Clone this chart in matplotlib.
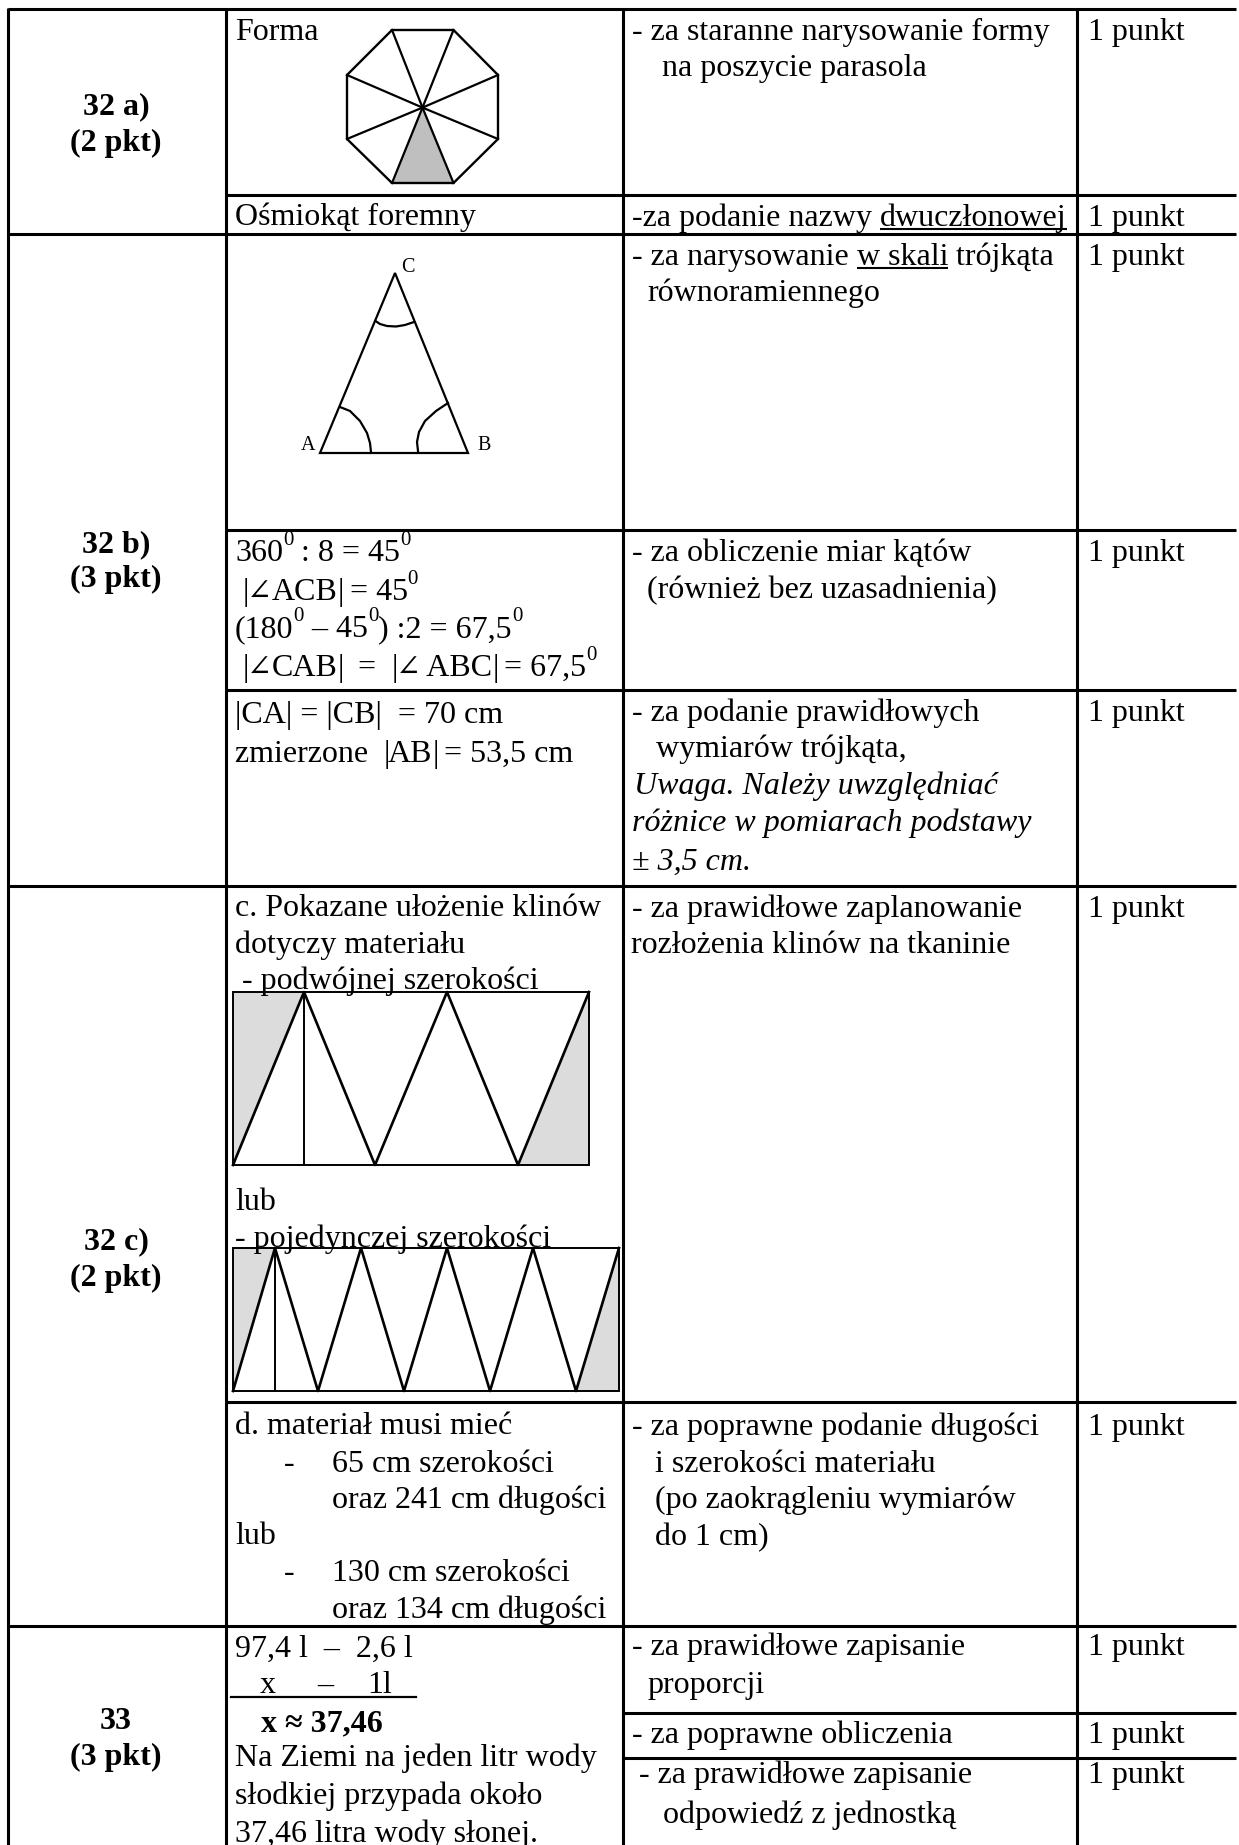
"""
Tabela punktacji 32-33: tekst i rysunki w ukladzie pikselowym strony
"""
import matplotlib
matplotlib.use("Agg")
import matplotlib.pyplot as plt
from matplotlib.patches import Polygon

plt.rcParams['font.family'] = ['Liberation Serif', 'DejaVu Serif']

# linie tabeli
COL_X = [8, 226, 623, 1077]
RIGHT = 1236
BOTTOM = 1845
FULL_ROWS = [9, 234, 886, 1626]
INNER_ROWS = [195, 530, 690, 1402]
SHORT_ROWS = [1713, 1758]
SUM_RULE = (231, 416, 1697)

# teksty: x, linia bazowa, tresc
LEFT_HEAD = [(116, 114, "32 a)"), (116, 151, "(2 pkt)"),
             (116, 552, "32 b)"), (116, 587, "(3 pkt)"),
             (116, 1249, "32 c)"), (116, 1286, "(2 pkt)"),
             (116, 1729, "33"), (116, 1765, "(3 pkt)")]
COL2_TEXT = [(235, 40, "Forma"), (235, 225, "Ośmiokąt foremny"),
             (235, 723, "|CA| = |CB|  = 70 cm"),
             (235, 916, "c. Pokazane ułożenie klinów"),
             (235, 953, "dotyczy materiału"),
             (242, 989, "- podwójnej szerokości"),
             (235, 1210, "lub"),
             (235, 1247, "- pojedynczej szerokości"),
             (235, 1434, "d. materiał musi mieć"),
             (284, 1472, "-"), (332, 1472, "65 cm szerokości"),
             (332, 1508, "oraz 241 cm długości"),
             (235, 1544, "lub"),
             (284, 1581, "-"), (332, 1581, "130 cm szerokości"),
             (332, 1618, "oraz 134 cm długości"),
             (235, 1657, "97,4 l  –  2,6 l"),
             (260, 1693, "x"), (317, 1693, "–"), (367, 1693, "1l"),
             (235, 1766, "Na Ziemi na jeden litr wody"),
             (235, 1804, "słodkiej przypada około"),
             (235, 1842, "37,46 litra wody słonej.")]
COL3_TEXT = [(632, 40, "- za staranne narysowanie formy"),
             (662, 76, "na poszycie parasola"),
             (647, 301, "równoramiennego"),
             (632, 561, "- za obliczenie miar kątów"),
             (647, 598, "(również bez uzasadnienia)"),
             (632, 721, "- za podanie prawidłowych"),
             (656, 757, "wymiarów trójkąta,"),
             (632, 917, "- za prawidłowe zaplanowanie"),
             (631, 953, "rozłożenia klinów na tkaninie"),
             (632, 1435, "- za poprawne podanie długości"),
             (655, 1472, "i szerokości materiału"),
             (655, 1508, "(po zaokrągleniu wymiarów"),
             (655, 1545, "do 1 cm)"),
             (632, 1655, "- za prawidłowe zapisanie"),
             (647, 1693, "proporcji"),
             (632, 1743, "- za poprawne obliczenia"),
             (639, 1783, "- za prawidłowe zapisanie"),
             (663, 1823, "odpowiedź z jednostką")]
COL3_ITALIC = [(634, 794, "Uwaga. Należy uwzględniać"),
               (632, 831, "różnice w pomiarach podstawy"),
               (632, 870, "± 3,5 cm.")]
POINT_BASE = [40, 226, 265, 561, 721, 917, 1435, 1655, 1743, 1783]
POINT_X = 1088

# wiersze zlozone: 0 zwykly, 1 podkreslony, 2 wykladnik, 3 kreska, 4 kat
UNDER_ROWS = [(632, 226, [("-za podanie nazwy ", 0), ("dwuczłonowej", 1)]),
              (632, 265, [("- za narysowanie ", 0), ("w skali", 1), (" trójkąta", 0)])]
SUP_ROWS = [(235, 561, [("360", 0), ("0", 2), (" : 8 = 45", 0), ("0", 2)]),
            (243, 600, [("|", 3), ("∠", 4), ("ACB", 0), ("|", 3), (" = 45", 0), ("0", 2)]),
            (235, 637, [("(180", 0), ("0", 2), (" – 45", 0), ("0", 2), (") :2 = 67,5", 0), ("0", 2)]),
            (243, 676, [("|", 3), ("∠", 4), ("CAB", 0), ("|", 3), ("  =  ", 0), ("|", 3), ("∠", 4),
                        (" ABC", 0), ("|", 3), (" = 67,5", 0), ("0", 2)]),
            (235, 762, [("zmierzone  ", 0), ("|", 3), ("AB", 0), ("|", 3), (" = 53,5 cm", 0)])]

# osmiokat
OCTAGON_X = [392, 453.5, 498, 498, 453.5, 392, 347, 347]
OCTAGON_Y = [30, 30, 75, 139, 183, 183, 139, 75]
OCT_CENTER = (422.5, 107.6)
OCT_SHADE = [(422.5, 107.6), (453.5, 183), (392, 183)]

# trojkat ABC
TRI_X = [320, 468, 395]
TRI_Y = [453, 453, 273]
ARC_C = ([375.5, 380, 387, 396, 405, 414], [321, 324, 326, 326.5, 325, 322])
ARC_A = ([340, 350, 360, 367, 370, 371], [407, 411, 421, 433, 443, 452])
ARC_B = ([448, 436, 425, 419, 417, 418], [403, 411, 421, 432, 442, 451])
TRI_LABELS = [(401, 272, "C"), (301, 450, "A"), (477, 450, "B")]

# uklad klinow
RECT1 = (233, 589, 992, 1165)
ZIG1_X = [233, 304, 375, 447, 518, 589]
ZIG1_Y = [1165, 992, 1165, 992, 1165, 992]
RECT2 = (233, 619, 1248, 1391)
ZIG2_X = [233, 275, 318, 361, 404, 447, 490, 533, 576, 619]
ZIG2_Y = [1391, 1248, 1391, 1248, 1391, 1248, 1391, 1248, 1391, 1248]

FS = 23
LW = 2.2


def put(ax, x, y, s, **kw):
    return ax.text(x, y, s, fontsize=kw.pop('fontsize', FS), va='baseline', color='black', **kw)


def run_row(ax, fig, x, y, parts):
    # kolejne kawalki tekstu, szerokosc brana z renderera
    r = fig.canvas.get_renderer()
    for s, style in parts:
        if style == 2:
            t = put(ax, x, y - 16, s, fontsize=15)
        elif style == 4:
            t = put(ax, x, y, s, fontsize=21.5)
        else:
            t = put(ax, x, y, s)
        w = t.get_window_extent(r).width
        if style == 1:
            ax.plot([x, x + w], [y + 3, y + 3], color='black', lw=1.5, solid_capstyle='butt')
        if style == 3:
            w *= 0.6
        x += w


def main():
    fig = plt.figure(figsize=(12.39, 18.45), dpi=100)
    ax = fig.add_axes([0, 0, 1, 1])
    ax.set_xlim(0, 1239)
    ax.set_ylim(1845, 0)
    ax.axis('off')

    # siatka
    for y in FULL_ROWS:
        ax.plot([COL_X[0], RIGHT], [y, y], color='black', lw=LW, solid_capstyle='butt')
    for y in INNER_ROWS:
        ax.plot([COL_X[1], RIGHT], [y, y], color='black', lw=LW, solid_capstyle='butt')
    for y in SHORT_ROWS:
        ax.plot([COL_X[2], RIGHT], [y, y], color='black', lw=LW, solid_capstyle='butt')
    for x in COL_X:
        ax.plot([x, x], [FULL_ROWS[0] - 1, BOTTOM], color='black', lw=LW, solid_capstyle='butt')

    # osmiokat
    pts = list(zip(OCTAGON_X, OCTAGON_Y))
    ax.add_patch(Polygon(OCT_SHADE, closed=True, fc='#bfbfbf', ec='none'))
    ax.add_patch(Polygon(pts, closed=True, fc='none', ec='black', lw=1.7))
    for px, py in pts:
        ax.plot([px, OCT_CENTER[0]], [py, OCT_CENTER[1]], color='black', lw=1.6)

    # trojkat
    ax.add_patch(Polygon(list(zip(TRI_X, TRI_Y)), closed=True, fc='none', ec='black', lw=1.6))
    for xs, ys in (ARC_C, ARC_A, ARC_B):
        ax.plot(xs, ys, color='black', lw=1.6)
    for x, y, s in TRI_LABELS:
        put(ax, x, y, s, fontsize=14.5)

    # kliny
    for rect, xs, ys, cut in ((RECT1, ZIG1_X, ZIG1_Y, 304), (RECT2, ZIG2_X, ZIG2_Y, 275)):
        x0, x1, y0, y1 = rect
        ax.add_patch(Polygon([(x0, y0), (xs[1], y0), (x0, y1)], closed=True, fc='#dcdcdc', ec='none'))
        ax.add_patch(Polygon([(xs[-2], y1), (x1, y1), (x1, y0)], closed=True, fc='#dcdcdc', ec='none'))
        ax.add_patch(Polygon([(x0, y0), (x1, y0), (x1, y1), (x0, y1)], closed=True, fc='none', ec='black', lw=1.4))
        ax.plot(xs, ys, color='black', lw=1.9)
        ax.plot([cut, cut], [y0, y1], color='black', lw=1.4)

    # teksty
    for x, y, s in LEFT_HEAD:
        put(ax, x, y, s, ha='center', fontweight='bold')
    for x, y, s in COL2_TEXT:
        put(ax, x, y, s)
    put(ax, 261, 1731, "x ≈ 37,46", fontweight='bold')
    ax.plot(SUM_RULE[:2], [SUM_RULE[2], SUM_RULE[2]], color='black', lw=1.6)
    for x, y, s in COL3_TEXT:
        put(ax, x, y, s)
    for x, y, s in COL3_ITALIC:
        put(ax, x, y, s, style='italic')
    for y in POINT_BASE:
        put(ax, POINT_X, y, "1 punkt")

    fig.canvas.draw()
    for x, y, parts in UNDER_ROWS + SUP_ROWS:
        run_row(ax, fig, x, y, parts)

    fig.savefig("out.png", dpi=100)


if __name__ == "__main__":
    main()
